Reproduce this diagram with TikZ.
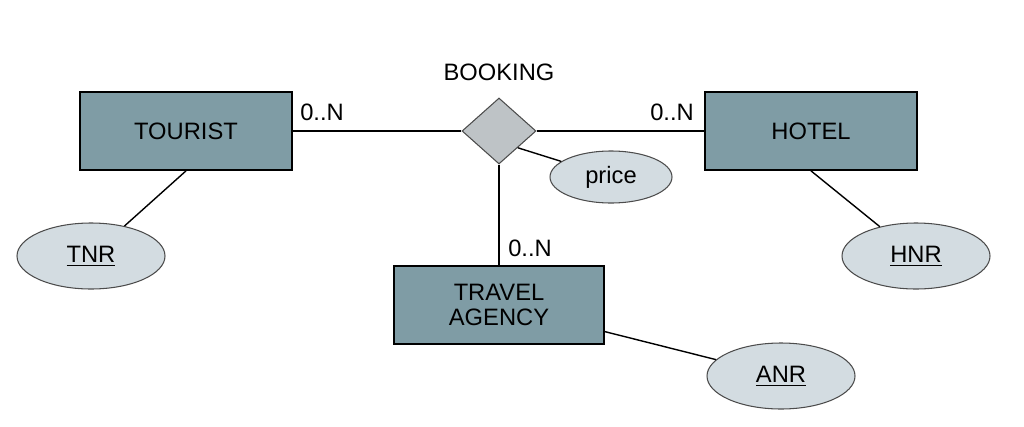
\documentclass[tikz,border=0pt]{standalone}
\usepackage{fontspec}
\setmainfont{Liberation Sans}
\usetikzlibrary{shapes.geometric}
\definecolor{ent}{HTML}{7F9CA5}
\definecolor{att}{HTML}{D3DCE1}
\definecolor{rel}{HTML}{BEC3C6}
\begin{document}
\begin{tikzpicture}[x=0.02cm,y=-0.02cm,
  every node/.style={font=\fontsize{13.5}{16}\selectfont},
  entity/.style={draw=black,line width=1pt,fill=ent,minimum width=212*0.02cm,minimum height=78*0.02cm,align=center,inner sep=0pt},
  attr/.style={ellipse,draw=black!70,line width=0.6pt,fill=att,minimum width=148*0.02cm,minimum height=66*0.02cm,inner sep=0pt},
  relation/.style={diamond,draw=black!70,line width=0.6pt,fill=rel,minimum width=74*0.02cm,minimum height=66*0.02cm,inner sep=0pt,aspect=1.1},
  conn/.style={line width=0.8pt}]
\useasboundingbox (0,0) rectangle (1024,426);
\node[relation] (b) at (499,131) {};
\node (bl) at (499,72) {BOOKING};
\node[entity] (t) at (186,131) {TOURIST};
\node[entity] (h) at (811,131) {HOTEL};
\node[entity,minimum width=210*0.02cm] (a) at (499,305) {TRAVEL\\[-2pt]AGENCY};
\node[attr,minimum width=122*0.02cm,minimum height=52*0.02cm] (p) at (611,177) {price};
\node[attr] (tn) at (91,256) {\underline{TNR}};
\node[attr] (hn) at (916,256) {\underline{HNR}};
\node[attr] (an) at (781,376) {\underline{ANR}};
\draw[conn] (t) -- (b) -- (h);
\draw[conn] (b) -- (a);
\draw[conn] (b.south east) -- (p);
\draw[conn] (t.south) -- (tn);
\draw[conn] (h.south) -- (hn);
\draw[conn] (a) -- (an);
\node (l1) at (322,112) {0..N};
\node (l2) at (672,112) {0..N};
\node (l3) at (530,248) {0..N};
\end{tikzpicture}
\end{document}
